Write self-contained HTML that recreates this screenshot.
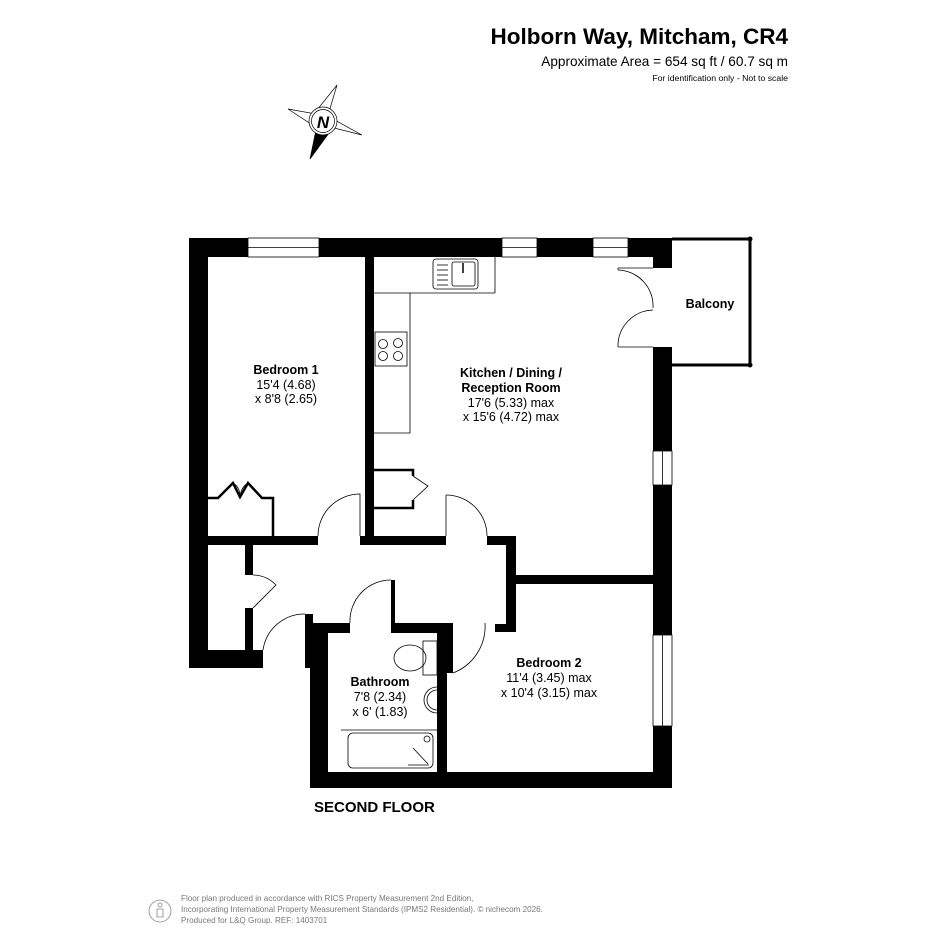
<!DOCTYPE html>
<html><head><meta charset="utf-8"><style>
html,body{margin:0;padding:0;background:#fff}
svg{display:block}
text{font-family:"Liberation Sans",Arial,sans-serif;fill:#000}
</style></head><body>
<svg width="945" height="945" viewBox="0 0 945 945" xmlns="http://www.w3.org/2000/svg">
<text x="788" y="44" font-size="22.5" font-weight="bold" text-anchor="end">Holborn Way, Mitcham, CR4</text>
<text x="788" y="66" font-size="13.6" text-anchor="end">Approximate Area = 654 sq ft / 60.7 sq m</text>
<text x="788" y="81" font-size="8.7" text-anchor="end">For identification only - Not to scale</text>

<!-- compass -->
<g stroke="#000" stroke-width="0.7" fill="#fff">
<polygon points="337,85 329,112 317,110"/>
<polygon points="288,109 316,114 314,126"/>
<polygon points="362,135 334,128 331,118"/>
<polygon points="310,159 316,130 329,133" fill="#000"/>
<circle cx="323" cy="121" r="14"/>
<circle cx="323" cy="121" r="11.5"/>
</g>
<text x="323" y="128" font-size="17" font-weight="bold" font-style="italic" text-anchor="middle">N</text>

<g fill="#000">
<rect x="189" y="238" width="483" height="19"/>
<rect x="653" y="238" width="19" height="30"/>
<rect x="189" y="238" width="19" height="430"/>
<rect x="189" y="650" width="74" height="18"/>
<rect x="365" y="257" width="9" height="288"/>
<rect x="208" y="536" width="110" height="9"/>
<rect x="360" y="536" width="86" height="9"/>
<rect x="487" y="536" width="29" height="9"/>
<rect x="506" y="536" width="10" height="96"/>
<rect x="495" y="624" width="21" height="8"/>
<rect x="245" y="545" width="8" height="30"/>
<rect x="245" y="608" width="8" height="42"/>
<rect x="653" y="347" width="19" height="441"/>
<rect x="516" y="575" width="137" height="9"/>
<rect x="305" y="614" width="8" height="54"/>
<rect x="310" y="623" width="18" height="165"/>
<rect x="310" y="623" width="40" height="10"/>
<rect x="391" y="623" width="61" height="10"/>
<rect x="391" y="580" width="4" height="50"/>
<rect x="437" y="623" width="10" height="150"/>
<rect x="447" y="623" width="6" height="50"/>
<rect x="310" y="772" width="362" height="16"/>
</g>
<g fill="#fff" stroke="#000" stroke-width="0.8">
<rect x="248" y="238" width="71" height="19"/>
<rect x="502" y="238" width="35" height="19"/>
<rect x="593" y="238" width="35" height="19"/>
<rect x="653" y="451" width="19" height="34"/>
<rect x="653" y="635" width="19" height="91"/>
</g>
<g stroke="#000" stroke-width="0.8">
<line x1="248" y1="247.5" x2="319" y2="247.5"/>
<line x1="502" y1="247.5" x2="537" y2="247.5"/>
<line x1="593" y1="247.5" x2="628" y2="247.5"/>
<line x1="662.5" y1="451" x2="662.5" y2="485"/>
<line x1="662.5" y1="635" x2="662.5" y2="726"/>
</g>
<polyline points="672,239 750,239 750,365 672,365" fill="none" stroke="#000" stroke-width="3"/>
<circle cx="750" cy="239" r="2.5"/><circle cx="750" cy="365" r="2.5"/>
<g fill="none" stroke="#000" stroke-width="0.8">
<line x1="618" y1="268" x2="653" y2="268"/>
<line x1="618" y1="268" x2="618" y2="270"/>
<path d="M618,270 A36,36 0 0 1 653,308"/>
<path d="M618,347 A36,36 0 0 1 653,310"/>
<line x1="618" y1="347" x2="653" y2="347"/>
<path d="M318,536 A42,42 0 0 1 360,494 L360,536"/>
<path d="M446,495 A41,41 0 0 1 487,536"/>
<line x1="446" y1="495" x2="446" y2="536"/>
<path d="M253,575 A33,33 0 0 1 276,585 L253,608"/>
<path d="M263,650 A42,42 0 0 1 305,614"/>
<path d="M350,623 A41,41 0 0 1 391,580"/>
<path d="M453,673 A50,50 0 0 0 485,623"/>
<polyline points="374,293 410,293 410,433 374,433"/>
<line x1="410" y1="293" x2="495" y2="293"/>
<line x1="495" y1="257" x2="495" y2="293"/>
<rect x="433" y="259" width="45" height="30" rx="3"/>
<rect x="452" y="262" width="23" height="24" rx="2"/>
<line x1="437" y1="265" x2="448" y2="265"/><line x1="437" y1="270" x2="448" y2="270"/><line x1="437" y1="275" x2="448" y2="275"/><line x1="437" y1="280" x2="448" y2="280"/><line x1="437" y1="285" x2="448" y2="285"/>
<line x1="463" y1="263" x2="463" y2="273" stroke-width="1.5"/>
<rect x="375" y="332" width="32" height="34"/>
<circle cx="383" cy="344" r="4.5"/><circle cx="398" cy="343" r="4.5"/>
<circle cx="383" cy="356" r="4.5"/><circle cx="398" cy="356" r="4.5"/>
<polyline points="374,470 413,470 413,476" stroke-width="2.5"/>
<polyline points="374,508 413,508 413,500" stroke-width="2.5"/>
<path d="M413,476 L428,486 L413,500"/>
<polyline points="208,498 218,498 233,483 240,497 248,483 262,498 273,498 273,537" stroke-width="2.5"/>
<path d="M233,483 Q240,487 240,497 M248,483 Q241,487 240,497"/>
<rect x="423" y="641" width="14" height="34"/>
<ellipse cx="410" cy="658" rx="16" ry="13"/>
<path d="M437,687 A13,13 0 0 0 437,713"/>
<path d="M437,690 A10,10 0 0 0 437,710"/>
<line x1="341" y1="730" x2="437" y2="730"/>
<rect x="348" y="733" width="85" height="35" rx="5"/>
<circle cx="427" cy="739" r="3"/>
<line x1="413" y1="748" x2="428" y2="764"/>
<line x1="408" y1="765" x2="429" y2="765"/>
</g>

<g font-size="12.5" text-anchor="middle">
<text x="286" y="374" font-weight="bold">Bedroom 1</text>
<text x="286" y="389">15'4 (4.68)</text>
<text x="286" y="403">x 8'8 (2.65)</text>
<text x="511" y="377" font-weight="bold">Kitchen / Dining /</text>
<text x="511" y="392" font-weight="bold">Reception Room</text>
<text x="511" y="407">17'6 (5.33) max</text>
<text x="511" y="421">x 15'6 (4.72) max</text>
<text x="710" y="308" font-weight="bold">Balcony</text>
<text x="549" y="667" font-weight="bold">Bedroom 2</text>
<text x="549" y="682">11'4 (3.45) max</text>
<text x="549" y="697">x 10'4 (3.15) max</text>
<text x="380" y="686" font-weight="bold">Bathroom</text>
<text x="380" y="701">7'8 (2.34)</text>
<text x="380" y="716">x 6' (1.83)</text>
</g>
<text x="314" y="812" font-size="15" font-weight="bold">SECOND FLOOR</text>

<g fill="none" stroke="#888" stroke-width="0.8">
<circle cx="160" cy="911" r="11"/>
<circle cx="160" cy="905" r="2"/>
<path d="M157,909 L163,909 L163,917 L157,917 Z"/>
</g>
<g font-size="8.1">
<text x="181" y="901" style="fill:#777">Floor plan produced in accordance with RICS Property Measurement 2nd Edition,</text>
<text x="181" y="912" style="fill:#777">Incorporating International Property Measurement Standards (IPMS2 Residential).   © nichecom 2026.</text>
<text x="181" y="923" style="fill:#777">Produced for L&amp;Q Group.   REF: 1403701</text>
</g>
</svg>
</body></html>
